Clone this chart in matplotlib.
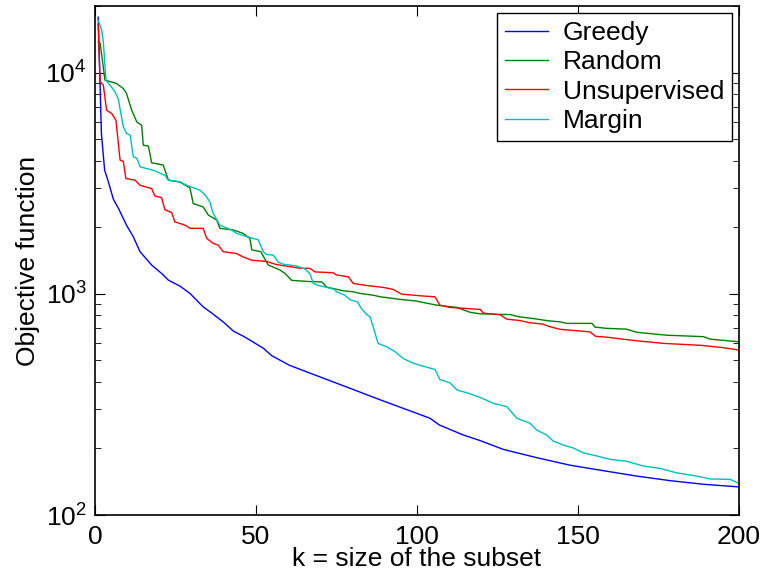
import matplotlib
matplotlib.use("Agg")
import matplotlib.pyplot as plt
from matplotlib.ticker import LogLocator, LogFormatterMathtext, MultipleLocator

plt.rcParams['font.family'] = ['Liberation Sans', 'DejaVu Sans']
plt.rcParams['mathtext.fontset'] = 'custom'
plt.rcParams['mathtext.rm'] = 'Liberation Sans'
plt.rcParams['mathtext.it'] = 'Liberation Sans:italic'
plt.rcParams['mathtext.default'] = 'regular'

# (k, objective) readings for each method
greedy = [(1, 17800), (2, 5300), (3, 3620), (4, 3265), (5.7, 2680), (7.5, 2400),
          (9.8, 2042), (11.9, 1811), (14, 1550), (17.6, 1349), (20.7, 1236),
          (22.8, 1153), (26.4, 1083), (29.5, 1004), (33.6, 873), (35.7, 830),
          (39.8, 747), (43, 678), (46, 644), (48.1, 618), (52.3, 567), (54.9, 525),
          (60.3, 476), (65.7, 444), (79.2, 374), (88.5, 332), (104, 274), (107, 255),
          (114.4, 230), (119.6, 217), (126.8, 198), (137.2, 181.6), (147.5, 168),
          (157.9, 158.6), (168.2, 150), (178.6, 143), (189, 137.7), (200, 134)]

random_sel = [(1, 13770), (1.6, 13590), (3.1, 9250), (6.7, 8930), (8.8, 8470),
              (9.8, 8050), (11.4, 6760), (13, 5980), (14.5, 5780), (15, 4700),
              (16.6, 4650), (17.6, 3910), (21.2, 3820), (22.8, 3265), (26.4, 3200),
              (29.5, 3010), (30.5, 2560), (33.6, 2470), (35.2, 2270), (37.8, 2155),
              (38.8, 1977), (43, 1943), (46, 1876), (48.1, 1780), (48.7, 1580),
              (51.5, 1550), (53.8, 1350), (57.5, 1280), (59, 1236), (61.1, 1150),
              (67.8, 1133), (70.4, 1133), (72, 1072), (77.1, 1032), (80.2, 1021),
              (82.3, 1004), (86.4, 986), (88.5, 970), (94.7, 944), (99.9, 927),
              (100.9, 920), (106.1, 889), (112.3, 868), (116.5, 825), (119.6, 812),
              (125.8, 807), (128.9, 806), (131.5, 788), (136.1, 773), (140.8, 755),
              (144.4, 747), (146.5, 735), (154.3, 735), (155.3, 707), (158.9, 698),
              (165.1, 692), (168.2, 670), (177.5, 650), (189, 640), (191, 624),
              (200, 607)]

unsupervised = [(1, 16500), (1.6, 9080), (2.6, 8770), (3.6, 6760), (5.2, 6530),
                (6.5, 6100), (7.8, 4020), (8.8, 3970), (9.6, 3320), (12.4, 3265),
                (14, 3095), (17.6, 2990), (18.6, 2770), (20.7, 2720), (21.7, 2400),
                (23.8, 2330), (24.8, 2115), (28, 2042), (29.5, 1977), (33.6, 1977),
                (34.7, 1780), (36.7, 1690), (38.3, 1660), (39.8, 1550), (44, 1520),
                (46, 1468), (48.7, 1419), (53.3, 1400), (56.4, 1355), (63.7, 1305),
                (66.8, 1303), (68.3, 1256), (74, 1245), (75, 1217), (78.7, 1194),
                (80.2, 1114), (84.4, 1090), (89.5, 1069), (92.6, 1047), (95.2, 997),
                (100.9, 980), (105.6, 969), (107.1, 889), (110.2, 868), (114.4, 860),
                (119.6, 850), (120.6, 818), (125.8, 804), (127.9, 768), (132, 757),
                (135, 740), (139, 730), (141, 712), (144.4, 691), (147.5, 685),
                (153.7, 673), (155.5, 642), (158.9, 637), (163, 626), (169.3, 611),
                (176.5, 597), (188, 585), (194.2, 573), (200, 557)]

margin = [(1, 17260), (2.1, 15560), (2.6, 13770), (3.4, 9250), (4.7, 8770),
          (6.2, 8180), (7.2, 7640), (8.8, 5690), (9.8, 5310), (10.9, 5220),
          (11.9, 4160), (13, 4100), (14, 3750), (18.1, 3620), (21.7, 3435),
          (22.8, 3265), (26.4, 3210), (28.5, 3095), (32.6, 2940), (34.2, 2800),
          (35.7, 2606), (36.5, 2350), (37.3, 2230), (38.8, 2042), (42.4, 1943),
          (44, 1876), (47.1, 1814), (50.7, 1755), (52.3, 1550), (53.3, 1505),
          (55.4, 1496), (56.9, 1390), (58.5, 1361), (62.6, 1336), (65.2, 1295),
          (66.8, 1230), (67.8, 1114), (69.4, 1090), (72, 1069), (74.5, 1045),
          (75, 1021), (77.6, 986), (79.2, 940), (81.5, 920), (82.8, 855),
          (84.4, 805), (85.4, 788), (86.4, 709), (87.9, 597), (90.6, 576),
          (93, 550), (95.7, 510), (98.5, 488), (101, 475), (105.6, 455),
          (107.1, 410), (110.2, 396), (112.5, 367), (115.8, 356), (119.6, 340),
          (123.7, 320), (127.9, 309), (131, 274), (135.1, 260), (137.2, 242),
          (140.3, 230), (142.3, 216), (145.5, 207), (148.5, 201), (151.7, 191),
          (155.8, 185), (160, 178.5), (165.1, 175), (170.3, 166.5), (175.5, 162.5),
          (180.7, 155), (186.9, 150), (191, 145.5), (197.2, 145), (200, 139)]

series_names = ["Greedy", "Random", "Unsupervised", "Margin"]
series_data = [greedy, random_sel, unsupervised, margin]
series_colors = ["#0000ff", "#008000", "#ff0000", "#00bfbf"]

fig = plt.figure(figsize=(7.69, 5.73), dpi=100)
ax = fig.add_axes([0.1235, 0.1012, 0.8375, 0.8883])

for name, data, color in zip(series_names, series_data, series_colors):
    ks = [p[0] for p in data]
    vs = [p[1] for p in data]
    ax.plot(ks, vs, color=color, lw=1.0, label=name)

ax.set_yscale('log')
ax.set_xlim(0, 200)
ax.set_ylim(100, 20000)
ax.xaxis.set_major_locator(MultipleLocator(50))
ax.yaxis.set_major_locator(LogLocator(base=10))
ax.yaxis.set_major_formatter(LogFormatterMathtext())
ax.yaxis.set_minor_locator(LogLocator(base=10, subs=range(2, 10)))

ax.tick_params(which='both', direction='in', top=True, right=True, labelsize=19)
ax.tick_params(which='major', length=7, width=0.8, pad=6)
ax.tick_params(axis='x', which='major', pad=7)
ax.tick_params(which='minor', length=4, width=0.6)
for s in ax.spines.values():
    s.set_linewidth(1.2)

ax.set_xlabel("k = size of the subset", fontsize=19, labelpad=-1)
ax.set_ylabel("Objective function", fontsize=19, labelpad=4)

leg = ax.legend(loc='upper right', fontsize=19, fancybox=False, framealpha=1,
                edgecolor='black', handlelength=1.65, borderpad=0.3,
                labelspacing=0.2, handletextpad=0.55, borderaxespad=0.27)
leg.get_frame().set_linewidth(1.0)

fig.savefig("out.png", dpi=100)
